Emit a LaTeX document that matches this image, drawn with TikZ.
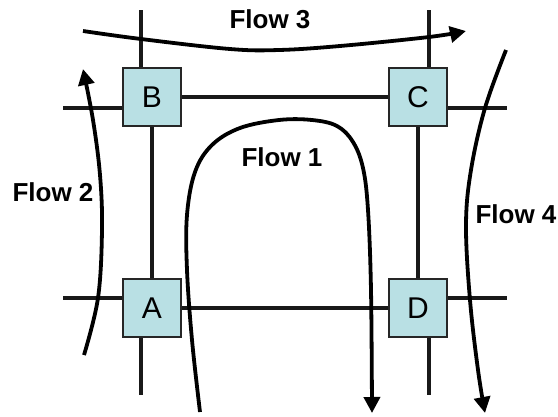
\documentclass[tikz,border=0pt]{standalone}
\usepackage{fontspec}
\setsansfont{Liberation Sans}
\usetikzlibrary{arrows.meta, calc, backgrounds}
\definecolor{boxcyan}{RGB}{185, 224, 228}

\begin{document}
\begin{tikzpicture}[x=1pt, y=-1pt,
  router/.style={draw=black!85, line width=2.2pt, fill=boxcyan, minimum size=58pt,
    inner sep=0pt, font=\sffamily\fontsize{30}{30}\selectfont},
  wire/.style={line width=3.2pt, black!90},
  flow/.style={line width=3.8pt, -{Triangle[width=16pt, length=16pt]}},
  flowlabel/.style={font=\sffamily\bfseries\fontsize{26}{26}\selectfont}]

\useasboundingbox (0,0) rectangle (558,416);

% Router
\node[router] (B) at (152,97) {B};
\node[router] (C) at (418,97) {C};
\node[router] (A) at (152,308) {A};
\node[router] (D) at (418,308) {D};

% Enden der offenen Leitungen
\coordinate (Btop) at (141,10);
\coordinate (Bleft) at (63,108);
\coordinate (Ctop) at (429,10);
\coordinate (Cright) at (507,108);
\coordinate (Aleft) at (63,298);
\coordinate (Abot) at (141,395);
\coordinate (Dright) at (507,298);
\coordinate (Dbot) at (429,395);

% Leitungen (hinter den Routern)
\begin{scope}[on background layer]
\draw[wire] (B) -- (C);
\draw[wire] (C) -- (D);
\draw[wire] (D) -- (A);
\draw[wire] (A) -- (B);
\draw[wire] (B.north -| Btop) -- (Btop);
\draw[wire] (B.west |- Bleft) -- (Bleft);
\draw[wire] (C.north -| Ctop) -- (Ctop);
\draw[wire] (C.east |- Cright) -- (Cright);
\draw[wire] (A.west |- Aleft) -- (Aleft);
\draw[wire] (A.south -| Abot) -- (Abot);
\draw[wire] (D.east |- Dright) -- (Dright);
\draw[wire] (D.south -| Dbot) -- (Dbot);
\end{scope}

% Fluesse
\draw[flow] plot[smooth, tension=0.6] coordinates {(200,412) (192,340) (187,270)
  (187,215) (195,172) (212,145) (240,128) (279,120) (312,120) (337,126)
  (353,142) (363,168) (368,210) (371,290) (372,413)};
\draw[flow] plot[smooth, tension=0.6] coordinates {(84,355) (98,298) (102,230)
  (100,175) (93,120) (83,69)};
\draw[flow] plot[smooth, tension=0.6] coordinates {(83,31) (141,39) (230,49)
  (279,50) (340,46) (429,37) (466,31)};
\draw[flow] plot[smooth, tension=0.6] coordinates {(506,50) (485,108) (471,170)
  (466,225) (470,300) (478,370) (485,413)};

% Beschriftungen
\node[flowlabel] (f1) at (282,157) {Flow 1};
\node[flowlabel] (f2) at (53,192) {Flow 2};
\node[flowlabel] (f3) at (270,19) {Flow 3};
\node[flowlabel] (f4) at (516,214) {Flow 4};

\end{tikzpicture}
\end{document}
